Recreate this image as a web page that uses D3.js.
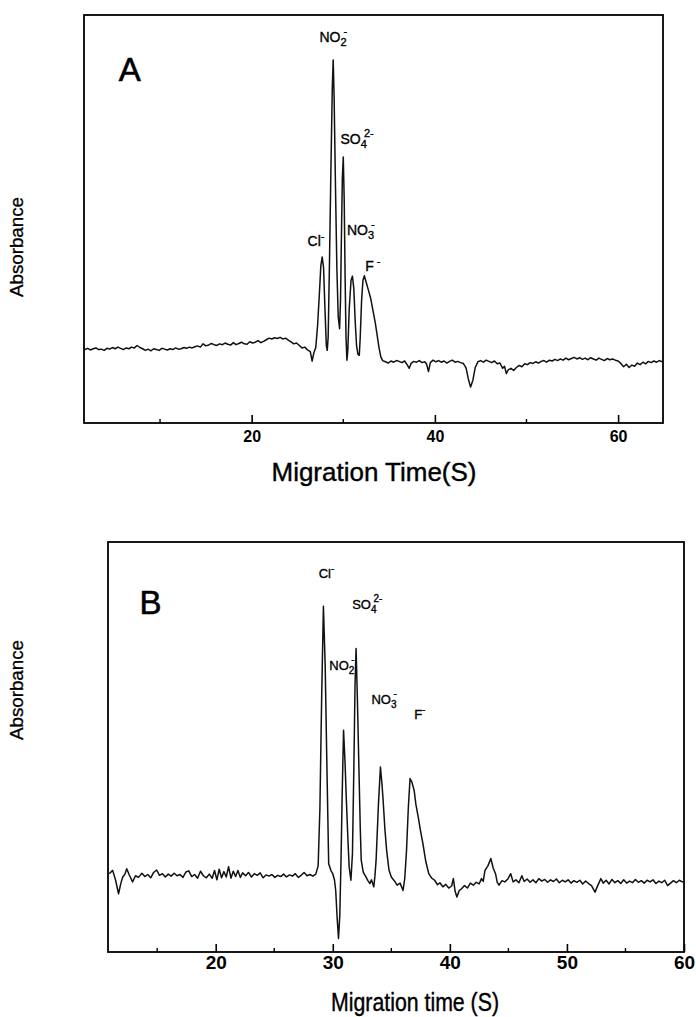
<!DOCTYPE html>
<html>
<head>
<meta charset="utf-8">
<script src="https://cdn.jsdelivr.net/npm/d3@7"></script>
<style>
  body { margin: 0; background: #fff; }
  text { font-family: "Liberation Sans", Arial, sans-serif; fill: #000; }
</style>
</head>
<body>
<div id="chart"></div>
<script>
// electropherogram A (time in s, absorbance in arbitrary units)
var timeA = [1.8,2.1,2.4,2.7,3.0,3.3,3.6,3.9,4.2,4.5,4.8,5.1,5.4,5.7,6.0,6.3,6.6,6.9,7.2,7.5,7.8,8.1,8.4,8.7,9.0,9.3,9.6,9.9,10.2,10.5,10.8,11.1,11.4,11.7,12.0,12.3,12.6,12.9,13.2,13.5,13.8,14.1,14.4,14.7,15.0,15.3,15.6,15.9,16.2,16.5,16.8,17.1,17.4,17.7,18.0,18.3,18.6,18.9,19.2,19.5,19.8,20.1,20.4,20.7,21.0,21.3,21.6,21.9,22.2,22.5,22.8,23.1,23.4,23.7,24.0,24.3,24.6,24.9,25.2,25.5,25.8,26.1,26.4,26.6,26.8,27.0,27.2,27.4,27.55,27.7,27.85,28.0,28.15,28.25,28.35,28.5,28.65,28.8,28.9,29.0,29.15,29.3,29.45,29.6,29.7,29.8,29.9,30.0,30.1,30.2,30.3,30.4,30.5,30.65,30.85,31.0,31.15,31.3,31.45,31.6,31.75,31.85,32.0,32.15,32.3,32.5,32.75,33.0,33.25,33.5,33.7,33.9,34.1,34.3,34.6,34.9,35.2,35.5,35.8,36.1,36.4,36.7,37.0,37.2,37.4,37.7,38.0,38.3,38.6,38.9,39.1,39.3,39.5,39.8,40.1,40.4,40.7,41.0,41.3,41.6,41.9,42.2,42.5,42.8,43.1,43.4,43.65,43.9,44.15,44.4,44.7,45.0,45.3,45.6,45.9,46.2,46.5,46.8,47.1,47.4,47.6,47.8,48.0,48.3,48.6,48.9,49.2,49.5,49.8,50.1,50.4,50.7,51.0,51.3,51.6,51.9,52.2,52.5,52.8,53.1,53.4,53.7,54.0,54.3,54.6,54.9,55.2,55.5,55.8,56.1,56.4,56.7,57.0,57.3,57.6,57.9,58.2,58.5,58.8,59.1,59.4,59.7,60.0,60.3,60.6,60.9,61.2,61.5,61.8,62.1,62.4,62.7,63.0,63.3,63.6,63.9,64.2,64.5,64.8];
var signalA = [18.0,18.3,17.9,18.2,18.4,18.0,18.1,17.8,18.3,18.1,18.5,18.2,18.6,18.3,18.0,18.4,18.2,18.6,18.4,19.0,18.5,18.2,17.8,18.1,17.7,18.2,18.0,17.8,18.3,18.1,17.9,18.2,18.0,18.4,18.1,18.2,18.5,18.3,18.6,18.4,18.7,18.9,18.6,19.4,18.9,19.1,19.5,19.2,19.0,19.4,19.2,19.6,19.3,19.1,19.7,19.2,19.5,19.8,19.4,19.3,19.9,19.6,19.8,20.2,19.7,20.0,20.4,20.8,20.6,20.9,20.7,21.0,20.6,20.8,20.3,19.9,19.4,19.6,19.0,18.4,18.6,17.9,17.5,15.2,17.3,18.5,24,32,38.5,40.7,38,28,19,17.8,21,40,62,82,89,80,58,38,26,23.1,30,46,60,65.2,55,36,21,15.4,18,28,35,36,33,25,19,16.8,16.6,21,30,35,36.1,34.5,32.5,30.5,27.5,24.5,21.5,18.5,16.2,15.3,15.0,14.7,15.2,14.9,15.3,15.1,14.8,15.2,14.2,13.4,14.6,15.1,14.9,15.3,14.8,15.0,14.4,12.6,14.8,15.4,15.0,15.3,14.9,15.2,14.7,15.1,15.4,14.9,15.1,14.8,14.6,13.5,10.8,8.8,10.5,13.6,15.0,15.3,14.9,15.4,15.1,14.8,15.2,14.5,14.7,13.4,13.9,12.1,13.0,13.4,12.9,13.6,14.1,13.8,14.5,14.3,14.8,14.6,15.0,14.7,15.1,15.3,14.9,15.4,15.2,15.6,15.3,15.7,15.4,15.9,15.5,15.8,16.1,15.7,16.0,15.6,15.9,15.5,16.0,15.7,15.4,15.9,15.6,15.3,15.8,15.5,15.7,15.4,15.2,14.6,13.8,14.4,13.6,14.2,13.9,14.7,14.3,14.9,14.5,15.1,14.8,15.2,14.9,15.3,15.0];

// electropherogram B
var timeB = [10.9,11.2,11.45,11.7,11.9,12.06,12.25,12.4,12.6,12.9,13.15,13.4,13.7,13.95,14.2,14.45,14.7,14.95,15.2,15.45,15.7,15.95,16.2,16.45,16.7,16.95,17.2,17.45,17.7,17.95,18.2,18.45,18.7,18.95,19.2,19.45,19.7,19.9,20.1,20.3,20.5,20.7,20.9,21.1,21.3,21.5,21.7,21.9,22.1,22.3,22.55,22.8,23.05,23.3,23.55,23.8,24.05,24.3,24.55,24.8,25.05,25.3,25.55,25.8,26.05,26.3,26.55,26.8,27.05,27.3,27.55,27.8,28.05,28.3,28.55,28.75,28.9,29.05,29.2,29.35,29.5,29.65,29.85,30.0,30.15,30.25,30.38,30.49,30.6,30.7,30.8,30.92,31.05,31.16,31.3,31.4,31.55,31.68,31.8,31.9,31.99,32.1,32.23,32.35,32.43,32.6,32.83,33.0,33.17,33.3,33.5,33.6,33.7,33.9,34.07,34.2,34.3,34.45,34.6,34.8,35.0,35.25,35.5,35.75,36.0,36.15,36.3,36.45,36.6,36.75,36.95,37.1,37.3,37.5,37.7,37.95,38.2,38.45,38.7,38.95,39.15,39.4,39.65,39.9,40.15,40.3,40.45,40.6,40.8,41.0,41.25,41.5,41.75,42.0,42.25,42.5,42.7,42.85,43.0,43.25,43.5,43.7,43.9,44.05,44.2,44.45,44.7,44.95,45.2,45.4,45.65,45.9,46.15,46.35,46.6,46.85,47.1,47.35,47.6,47.85,48.1,48.35,48.6,48.85,49.1,49.35,49.6,49.85,50.1,50.35,50.6,50.85,51.1,51.35,51.6,51.85,52.1,52.4,52.6,52.9,53.1,53.35,53.6,53.85,54.1,54.35,54.6,54.85,55.1,55.35,55.6,55.85,56.1,56.35,56.6,56.85,57.1,57.35,57.6,57.85,58.1,58.35,58.6,58.85,59.1,59.35,59.6,59.85,60.0];
var signalB = [19.1,19.9,17.5,14.2,16.8,18.3,19.0,20.3,18.9,17.1,18.6,18.2,19.2,18.4,18.9,18.1,19.4,20.0,18.7,19.1,18.3,19.0,18.5,19.2,18.6,18.9,18.2,19.5,19.8,18.4,18.9,18.0,19.7,18.6,18.1,19.0,18.0,19.9,17.6,20.2,18.1,19.6,18.3,20.8,18.0,19.7,18.4,19.9,18.2,19.3,18.6,19.4,18.3,19.1,18.7,19.3,18.1,18.8,18.5,18.9,18.2,18.7,18.4,19.0,18.3,18.8,18.5,19.1,18.2,18.7,19.4,18.6,18.9,18.5,19.0,21,35,62,84.3,70,45,21.5,19.8,19.1,17.5,15.0,8,3.3,9,22,38,54.1,46,37.0,27,20.7,17.5,24,45,65,74.0,62,45.1,30,22.4,19.5,18.3,17.4,16.7,17.6,15.9,18.5,22.4,36,45.1,41,37,30,24.8,20,18.3,17.4,16.3,16.8,15.0,18,24.8,35,42.3,41.5,39.4,36,32.9,29.5,26.4,22,19.1,18.0,17.5,16.4,16.9,15.9,16.5,15.6,16.1,17.9,14.8,13.4,15.0,15.4,16.2,15.6,16.8,16.3,17.0,16.6,17.9,17.2,19.9,21,22.8,20.5,19.1,17.0,16.3,17.4,17.1,17.8,19.1,17.1,17.6,16.9,18.6,17.2,17.8,17.0,17.6,16.9,17.9,17.3,17.7,17.0,17.6,17.2,17.8,16.9,17.5,17.1,17.6,16.8,17.4,17.0,17.5,16.6,17.3,16.7,16.2,14.6,16.0,17.9,16.8,17.5,16.6,17.7,16.9,17.4,16.7,17.6,16.8,17.3,16.9,17.7,17.0,17.4,16.8,17.5,17.1,17.6,16.7,17.3,16.9,17.5,16.2,16.8,17.4,16.9,17.5,17.1,17.2];

// axis ticks
var majorTicksA = [20, 40, 60];
var minorTicksA = [10, 30, 50];
var majorTicksB = [20, 30, 40, 50, 60];
var minorTicksB = [15, 25, 35, 45, 55];

// peak labels: ion, subscript, superscript, anchor time, anchor absorbance
var ionsA = ["NO", "SO", "NO", "Cl", "F"];
var subsA = ["2", "4", "3", "", ""];
var supsA = ["-", "2-", "-", "-", " -"];
var labelTimeA = [27.4, 29.7, 30.4, 26.1, 32.4];
var labelAbsA = [93.5, 68.5, 46.0, 43.4, 37.3];

var ionsB = ["Cl", "SO", "NO", "NO", "F"];
var subsB = ["", "4", "2", "3", ""];
var supsB = ["-", "2-", "-", "-", "-"];
var labelTimeB = [28.8, 31.66, 29.7, 33.3, 36.95];
var labelAbsB = [91.2, 83.7, 68.7, 60.6, 56.9];

var width = 696, height = 1017;

var svg = d3.select("#chart").append("svg")
    .attr("width", width)
    .attr("height", height)
    .style("background", "#fff");

function drawPanel(p) {
    var x = d3.scaleLinear().domain(p.domain).range([p.left, p.right]);
    var y = d3.scaleLinear().domain([0, 100]).range([p.bottom, p.top]);
    var g = svg.append("g");

    var pts = p.time.map(function(t, i) { return [t, p.signal[i]]; });
    var line = d3.line()
        .x(function(d) { return x(d[0]); })
        .y(function(d) { return y(d[1]); });

    g.append("path")
        .datum(pts)
        .attr("d", line)
        .attr("fill", "none")
        .attr("stroke", "#111")
        .attr("stroke-width", 1.5)
        .attr("stroke-linejoin", "round");

    // frame
    g.append("rect")
        .attr("x", p.left).attr("y", p.top)
        .attr("width", p.right - p.left).attr("height", p.bottom - p.top)
        .attr("fill", "none").attr("stroke", "#000").attr("stroke-width", 1.8);

    // bottom axis, ticks pointing in
    var axis = d3.axisBottom(x).tickValues(p.major).tickSizeInner(-8).tickSizeOuter(0)
        .tickFormat(d3.format("d"));
    var ax = g.append("g").attr("transform", "translate(0," + p.bottom + ")").call(axis);
    ax.select(".domain").remove();
    ax.selectAll("line").attr("stroke", "#000").attr("stroke-width", 1.6);
    ax.selectAll("text")
        .attr("y", p.tickY)
        .attr("dy", "0.71em")
        .style("font-size", p.tickSize + "px")
        .style("font-weight", "bold")
        .style("font-family", '"Liberation Sans", Arial, sans-serif');

    g.selectAll(".minor")
        .data(p.minor)
        .enter().append("line")
        .attr("x1", function(d) { return x(d); })
        .attr("x2", function(d) { return x(d); })
        .attr("y1", p.bottom)
        .attr("y2", p.bottom - 4)
        .attr("stroke", "#000").attr("stroke-width", 1.4);

    // panel letter
    g.append("text")
        .attr("x", x(p.letterAt[0])).attr("y", y(p.letterAt[1]))
        .style("font-size", "33px")
        .style("stroke", "#000").style("stroke-width", 0.6)
        .text(p.letter);

    // peak labels
    p.ions.forEach(function(ion, i) {
        var t = g.append("text")
            .attr("x", x(p.labelTime[i])).attr("y", y(p.labelAbs[i]))
            .style("font-size", p.labelSize + "px")
            .style("stroke", "#000").style("stroke-width", 0.35);
        t.append("tspan").text(ion);
        if (p.subs[i]) {
            t.append("tspan").attr("dy", 4).style("font-size", (p.labelSize - 3) + "px").text(p.subs[i]);
            t.append("tspan").attr("dx", -3).attr("dy", -11).style("font-size", (p.labelSize - 3) + "px").text(p.sups[i]);
        } else {
            t.append("tspan").attr("dy", -6).style("font-size", (p.labelSize - 3) + "px").text(p.sups[i]);
        }
    });

    // axis titles
    g.append("text")
        .attr("x", p.titleX).attr("y", p.titleY)
        .attr("text-anchor", "middle")
        .attr("textLength", p.titleLen)
        .attr("lengthAdjust", "spacingAndGlyphs")
        .style("font-size", "26px")
        .style("stroke", "#000").style("stroke-width", 0.4)
        .text(p.title);

    g.append("text")
        .attr("transform", "translate(23," + p.ylabY + ") rotate(-90)")
        .attr("text-anchor", "middle")
        .attr("textLength", 100)
        .attr("lengthAdjust", "spacingAndGlyphs")
        .style("font-size", "18px")
        .style("stroke", "#000").style("stroke-width", 0.3)
        .text("Absorbance");
}

drawPanel({
    domain: [1.7, 64.9], left: 84, right: 663, top: 15, bottom: 423,
    time: timeA, signal: signalA,
    major: majorTicksA, minor: minorTicksA, tickY: 8, tickSize: 16,
    letter: "A", letterAt: [5.5, 83.8],
    ions: ionsA, subs: subsA, sups: supsA, labelTime: labelTimeA, labelAbs: labelAbsA, labelSize: 14,
    title: "Migration Time(S)", titleX: 374, titleY: 481, titleLen: 205,
    ylabY: 247
});

drawPanel({
    domain: [10.8, 60], left: 108, right: 684, top: 542, bottom: 952,
    time: timeB, signal: signalB,
    major: majorTicksB, minor: minorTicksB, tickY: 4, tickSize: 19,
    letter: "B", letterAt: [13.5, 82.5],
    ions: ionsB, subs: subsB, sups: supsB, labelTime: labelTimeB, labelAbs: labelAbsB, labelSize: 13,
    title: "Migration time (S)", titleX: 415, titleY: 1011, titleLen: 168,
    ylabY: 690
});
</script>
</body>
</html>
